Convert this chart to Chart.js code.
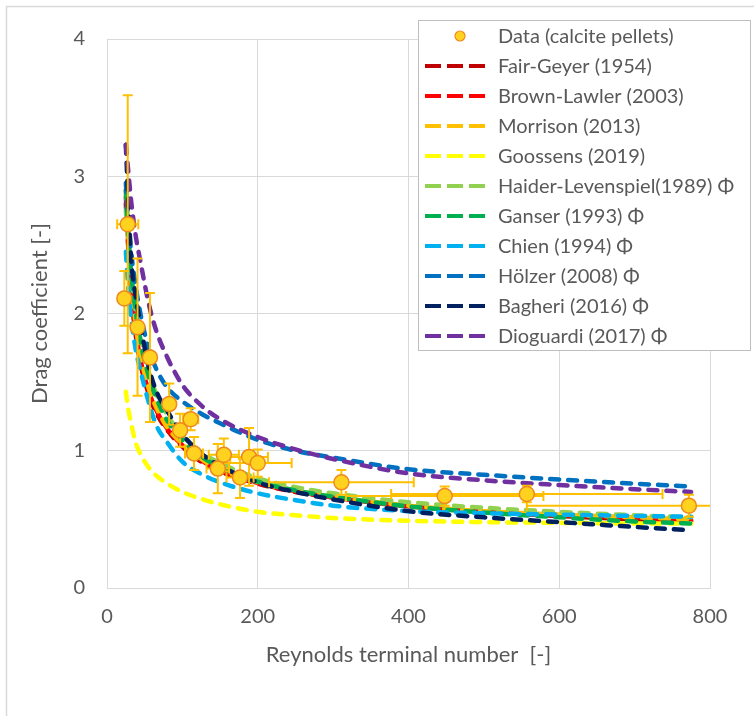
<!DOCTYPE html>
<html>
<head>
<meta charset="utf-8">
<script src="https://cdn.jsdelivr.net/npm/chart.js@4.4.1/dist/chart.umd.min.js"></script>
<style>
  html, body { margin: 0; padding: 0; background: #fff; }
  #wrap { position: relative; width: 754px; height: 716px; }
</style>
</head>
<body>
<div id="wrap"><canvas id="cdChart" width="754" height="716"></canvas></div>
<script>
// measured terminal Reynolds / drag coefficient (calcite pellets)
const dataRe    = [23, 27.5, 40.5, 57, 82.5, 97, 111, 115.5, 147, 155, 176.5, 188.5, 200, 311, 448, 557, 772];
const dataCd    = [2.11, 2.65, 1.90, 1.68, 1.34, 1.15, 1.23, 0.98, 0.87, 0.97, 0.805, 0.955, 0.91, 0.77, 0.67, 0.685, 0.60];
const dataReErr = [4, 14, 5, 6, 8, 6, 10, 12, 15, 20, 18, 25, 45, 96, 131, 180, 215];
const dataCdErr = [0.20, 0.94, 0.50, 0.47, 0.15, 0.12, 0.08, 0.12, 0.18, 0.12, 0.15, 0.21, 0.10, 0.09, 0.07, 0.06, 0.08];

// model curves, evaluated on a common Re grid
const curveRe     = [25, 28, 32, 38, 45, 55, 65, 80, 100, 125, 150, 200, 250, 300, 400, 500, 600, 700, 775];
const fairGeyer   = [2.80, 2.50, 2.15, 1.85, 1.62, 1.42, 1.28, 1.15, 1.03, 0.92, 0.85, 0.76, 0.70, 0.66, 0.595, 0.555, 0.525, 0.50, 0.485];
const brownLawler = [2.85, 2.55, 2.20, 1.88, 1.65, 1.44, 1.30, 1.16, 1.04, 0.93, 0.86, 0.765, 0.705, 0.66, 0.595, 0.555, 0.53, 0.51, 0.495];
const morrison    = [2.90, 2.60, 2.25, 1.92, 1.68, 1.46, 1.32, 1.17, 1.05, 0.94, 0.865, 0.77, 0.71, 0.665, 0.60, 0.56, 0.535, 0.515, 0.50];
const goossens    = [1.43, 1.31, 1.20, 1.06, 0.97, 0.88, 0.82, 0.76, 0.70, 0.65, 0.61, 0.555, 0.53, 0.51, 0.49, 0.48, 0.475, 0.47, 0.47];
const haiderLev   = [2.75, 2.55, 2.30, 2.02, 1.80, 1.58, 1.42, 1.26, 1.11, 0.99, 0.91, 0.80, 0.735, 0.69, 0.625, 0.585, 0.555, 0.53, 0.515];
const ganser      = [2.90, 2.60, 2.30, 2.02, 1.78, 1.55, 1.39, 1.22, 1.08, 0.96, 0.88, 0.775, 0.71, 0.665, 0.595, 0.55, 0.515, 0.485, 0.47];
const chien       = [2.45, 2.20, 1.97, 1.74, 1.57, 1.36, 1.19, 1.06, 0.92, 0.83, 0.77, 0.69, 0.64, 0.60, 0.56, 0.545, 0.535, 0.525, 0.52];
const holzer      = [2.95, 2.70, 2.45, 2.20, 1.98, 1.75, 1.60, 1.46, 1.36, 1.27, 1.20, 1.08, 1.00, 0.95, 0.865, 0.825, 0.79, 0.76, 0.74];
const bagheri     = [3.23, 2.85, 2.40, 2.13, 1.90, 1.62, 1.44, 1.29, 1.12, 0.98, 0.89, 0.77, 0.70, 0.645, 0.56, 0.515, 0.48, 0.445, 0.42];
const dioguardi   = [3.23, 3.05, 2.82, 2.57, 2.36, 2.08, 1.88, 1.68, 1.48, 1.33, 1.23, 1.10, 1.01, 0.94, 0.835, 0.785, 0.75, 0.72, 0.70];

const modelNames  = ['Fair-Geyer (1954)', 'Brown-Lawler (2003)', 'Morrison (2013)', 'Goossens (2019)',
                     'Haider-Levenspiel(1989) Φ', 'Ganser (1993) Φ', 'Chien (1994) Φ', 'Hölzer (2008) Φ',
                     'Bagheri (2016) Φ', 'Dioguardi (2017) Φ'];
const modelValues = [fairGeyer, brownLawler, morrison, goossens, haiderLev, ganser, chien, holzer, bagheri, dioguardi];
const modelColors = ['#C00000', '#FF0000', '#FFC000', '#FFFF00', '#92D050', '#00B050', '#00B0F0', '#0070C0', '#002060', '#7030A0'];

const FONT = 'Lato, "Open Sans", sans-serif';
const TXT = '#595959';
const GRID = '#D9D9D9';

const toXY = (xs, ys) => xs.map((v, i) => ({ x: v, y: ys[i] }));

const datasets = [{
  label: 'Data (calcite pellets)',
  data: toXY(dataRe, dataCd),
  showLine: false,
  pointRadius: 7.5,
  pointBackgroundColor: '#FFD21F',
  pointBorderColor: '#EE8A1C',
  pointBorderWidth: 1.5,
  order: 0
}];
modelNames.forEach((name, i) => {
  datasets.push({
    label: name,
    data: toXY(curveRe, modelValues[i]),
    showLine: true,
    borderColor: modelColors[i],
    backgroundColor: modelColors[i],
    borderWidth: 4.5,
    borderDash: [9, 9],
    borderCapStyle: 'round',
    pointRadius: 0,
    cubicInterpolationMode: 'monotone',
    order: modelNames.length - i
  });
});

// error bars drawn just before the data markers
const errorBars = {
  id: 'errorBars',
  beforeDatasetDraw(chart, args) {
    if (args.index !== 0) return;
    const { ctx, chartArea: a, scales: { x, y } } = chart;
    ctx.save();
    ctx.beginPath();
    ctx.rect(a.left, a.top, a.right - a.left, a.bottom - a.top);
    ctx.clip();
    ctx.strokeStyle = '#FFC000';
    ctx.lineWidth = 2;
    const cap = 5;
    dataRe.forEach((re, i) => {
      const px = x.getPixelForValue(re), py = y.getPixelForValue(dataCd[i]);
      const x0 = x.getPixelForValue(re - dataReErr[i]), x1 = x.getPixelForValue(re + dataReErr[i]);
      const y0 = y.getPixelForValue(dataCd[i] - dataCdErr[i]), y1 = y.getPixelForValue(dataCd[i] + dataCdErr[i]);
      ctx.beginPath();
      ctx.moveTo(x0, py); ctx.lineTo(x1, py);
      ctx.moveTo(x0, py - cap); ctx.lineTo(x0, py + cap);
      ctx.moveTo(x1, py - cap); ctx.lineTo(x1, py + cap);
      ctx.moveTo(px, y0); ctx.lineTo(px, y1);
      ctx.moveTo(px - cap, y0); ctx.lineTo(px + cap, y0);
      ctx.moveTo(px - cap, y1); ctx.lineTo(px + cap, y1);
      ctx.stroke();
    });
    ctx.restore();
  }
};

// outer chart frame
const frame = {
  id: 'frame',
  beforeDraw(chart) {
    const ctx = chart.ctx;
    ctx.save();
    ctx.strokeStyle = GRID;
    ctx.lineWidth = 1.5;
    ctx.strokeRect(6.5, 6.5, 900, 900);
    ctx.restore();
  }
};

// boxed legend overlapping the plot, top right
const boxLegend = {
  id: 'boxLegend',
  afterDraw(chart) {
    const ctx = chart.ctx;
    const L = 418, T = 20, W = 332, H = 330;
    ctx.save();
    ctx.fillStyle = '#fff';
    ctx.fillRect(L, T, W, H);
    ctx.strokeStyle = '#BFBFBF';
    ctx.lineWidth = 1;
    ctx.strokeRect(L + 0.5, T + 0.5, W, H);
    ctx.font = '20px ' + FONT;
    ctx.textBaseline = 'middle';
    chart.data.datasets.forEach((ds, i) => {
      const yy = T + 16 + i * 30;
      if (i === 0) {
        ctx.beginPath();
        ctx.arc(460, yy, 5, 0, Math.PI * 2);
        ctx.fillStyle = ds.pointBackgroundColor;
        ctx.fill();
        ctx.lineWidth = 1.2;
        ctx.strokeStyle = ds.pointBorderColor;
        ctx.stroke();
      } else {
        ctx.beginPath();
        ctx.setLineDash([16, 6]);
        ctx.lineWidth = 4;
        ctx.strokeStyle = ds.borderColor;
        ctx.moveTo(425, yy); ctx.lineTo(487, yy);
        ctx.stroke();
        ctx.setLineDash([]);
      }
      ctx.fillStyle = TXT;
      ctx.fillText(ds.label, 498, yy + 1);
    });
    ctx.restore();
  }
};

new Chart(document.getElementById('cdChart'), {
  type: 'scatter',
  data: { datasets },
  options: {
    responsive: false,
    animation: false,
    devicePixelRatio: 1,
    layout: { padding: { top: 39, right: 44, left: 0, bottom: 0 } },
    plugins: { legend: { display: false }, tooltip: { enabled: false } },
    scales: {
      x: {
        type: 'linear', min: 0, max: 800,
        ticks: { stepSize: 200, padding: 17, color: TXT, font: { family: FONT, size: 20 } },
        grid: { color: GRID, drawTicks: false },
        border: { color: GRID },
        title: { display: true, text: 'Reynolds terminal number  [-]', color: TXT,
                 font: { family: FONT, size: 22 }, padding: { top: 0, bottom: 48 } },
        afterFit(s) { s.height = 128; }
      },
      y: {
        min: 0, max: 4,
        ticks: { stepSize: 1, padding: 22, color: TXT, font: { family: FONT, size: 20 } },
        grid: { color: GRID, drawTicks: false },
        border: { color: GRID },
        title: { display: true, text: 'Drag coefficient [-]', color: TXT,
                 font: { family: FONT, size: 22 }, padding: { top: 27, bottom: 0 } },
        afterFit(s) { s.width = 107; }
      }
    }
  },
  plugins: [frame, errorBars, boxLegend]
});
</script>
</body>
</html>
